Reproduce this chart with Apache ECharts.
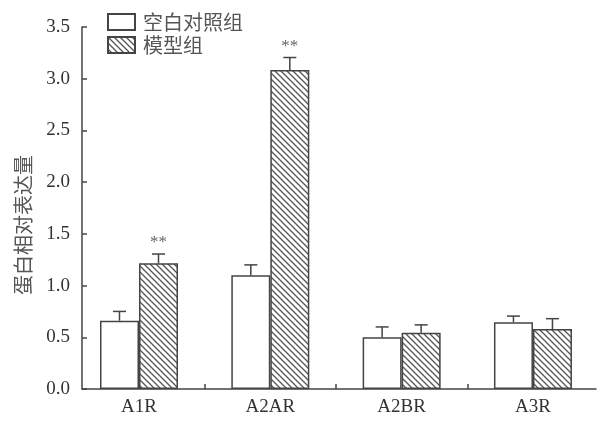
<!DOCTYPE html>
<html><head><meta charset="utf-8">
<script src="https://cdn.jsdelivr.net/npm/echarts@6/dist/echarts.min.js"></script>
<style>html,body{margin:0;padding:0;background:#fff}#c{width:598px;height:423px}</style>
</head><body><div id="c"></div>
<script>
var categories = ['A1R', 'A2AR', 'A2BR', 'A3R'];
var controlValues = [0.66, 1.10, 0.50, 0.645];
var controlErrors = [0.09, 0.10, 0.10, 0.06];
var modelValues = [1.215, 3.085, 0.545, 0.58];
var modelErrors = [0.09, 0.12, 0.075, 0.10];
var modelMarks = ['**', '**', '', ''];
var yTicks = [0, 0.5, 1, 1.5, 2, 2.5, 3, 3.5];
var seriesNames = ['空白对照组', '模型组'];

function makeHatch() {
  var s = 6, cv = document.createElement('canvas');
  cv.width = s; cv.height = s;
  var ctx = cv.getContext('2d');
  ctx.fillStyle = '#fff'; ctx.fillRect(0, 0, s, s);
  ctx.strokeStyle = '#555'; ctx.lineWidth = 1.3;
  ctx.beginPath();
  ctx.moveTo(-1, -1); ctx.lineTo(s + 1, s + 1);
  ctx.moveTo(-1, s - 1); ctx.lineTo(1, s + 1);
  ctx.moveTo(s - 1, -1); ctx.lineTo(s + 1, 1);
  ctx.stroke();
  return cv;
}
var hatch = makeHatch();

var BW = 39;
function pts(vals) { return vals.map(function (v, i) { return [i, v]; }); }
function errData(vals, errs, marks) {
  return vals.map(function (v, i) { return [i, v, v + errs[i], marks ? marks[i] : '']; });
}
function errSeries(vals, errs, shift, marks) {
  return {
    type: 'custom', silent: true, z: 5,
    data: errData(vals, errs, marks),
    renderItem: function (params, api) {
      var base = api.coord([api.value(0), api.value(1)]);
      var top = api.coord([api.value(0), api.value(2)]);
      var x = base[0] + shift;
      var children = [
        { type: 'line', shape: { x1: x, y1: base[1], x2: x, y2: top[1] }, style: { stroke: '#444', lineWidth: 1.5 } },
        { type: 'line', shape: { x1: x - 6.5, y1: top[1], x2: x + 6.5, y2: top[1] }, style: { stroke: '#444', lineWidth: 1.5 } }
      ];
      var m = api.value(3);
      if (m) {
        children.push({ type: 'text', style: { text: m, x: x, y: top[1] - 11, align: 'center', verticalAlign: 'middle', font: '17px "Liberation Serif"', fill: '#666' } });
      }
      return { type: 'group', children: children };
    }
  };
}

var chart = echarts.init(document.getElementById('c'));
chart.setOption({
  animation: false,
  grid: { left: 82, right: 2, top: 27, bottom: 34, containLabel: false },
  legend: {
    orient: 'vertical', left: 102, top: 7, itemWidth: 27, itemHeight: 16, itemGap: 3,
    icon: 'rect',
    textStyle: { fontFamily: 'Noto Sans CJK SC', fontSize: 20, color: '#555', padding: [0, 0, 0, 3] },
    data: seriesNames
  },
  xAxis: {
    type: 'value', min: -0.434, max: 3.48,
    splitLine: { show: false },
    axisLine: { show: true, onZero: false, lineStyle: { color: '#444', width: 1.5 } },
    axisTick: { show: true, inside: true, length: 5, customValues: [0.5, 1.5, 2.5], lineStyle: { color: '#444', width: 1.5 } },
    axisLabel: {
      customValues: [0, 1, 2, 3],
      formatter: function (v) { return categories[Math.round(v)]; },
      fontFamily: 'Liberation Serif', fontSize: 19, color: '#333', margin: 9
    }
  },
  yAxis: {
    type: 'value', min: 0, max: 3.5, interval: 0.5,
    name: '蛋白相对表达量', nameLocation: 'middle', nameGap: 49,
    nameTextStyle: { fontFamily: 'Noto Sans CJK SC', fontSize: 20, color: '#555', padding: [0, 34, 0, 0] },
    splitLine: { show: false },
    axisLine: { show: true, onZero: false, lineStyle: { color: '#444', width: 1.5 } },
    axisTick: { show: true, inside: true, length: 5, lineStyle: { color: '#444', width: 1.5 } },
    axisLabel: {
      formatter: function (v) { return v.toFixed(1); },
      fontFamily: 'Liberation Serif', fontSize: 19, color: '#333', margin: 12
    }
  },
  series: [
    { name: seriesNames[0], type: 'bar', barWidth: BW, barGap: '0%', data: pts(controlValues),
      itemStyle: { color: '#fff', borderColor: '#444', borderWidth: 1.5 } },
    { name: seriesNames[1], type: 'bar', barWidth: BW, barGap: '0%', data: pts(modelValues),
      itemStyle: { color: { image: hatch, repeat: 'repeat' }, borderColor: '#444', borderWidth: 1.5 } },
    errSeries(controlValues, controlErrors, -BW / 2),
    errSeries(modelValues, modelErrors, BW / 2, modelMarks)
  ]
});
</script>
</body></html>
